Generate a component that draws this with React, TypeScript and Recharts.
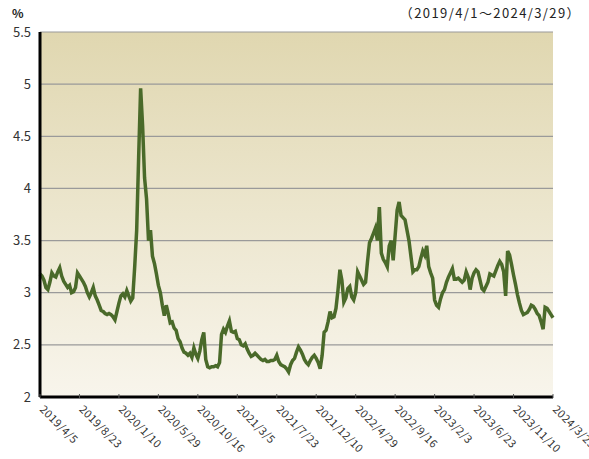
import { CartesianGrid, Line, LineChart, XAxis, YAxis } from 'recharts'

// weekly yield (%), 2019/4/5 .. 2024/3/29
const yields = [
  3.18, 3.16, 3.12, 3.05, 3.03, 3.1, 3.19, 3.16, 3.15, 3.2,
  3.24, 3.16, 3.11, 3.08, 3.05, 3.07, 3.0, 3.01, 3.05, 3.19,
  3.16, 3.13, 3.1, 3.06, 3.0, 2.96, 3.0, 3.05, 2.97, 2.93,
  2.88, 2.83, 2.82, 2.8, 2.79, 2.8, 2.79, 2.77, 2.74, 2.82,
  2.9, 2.97, 2.99, 2.96, 3.02, 2.97, 2.92, 2.95, 3.25, 3.6,
  4.3, 4.96, 4.6, 4.1, 3.9, 3.5, 3.6, 3.35, 3.28, 3.18,
  3.07, 3.0, 2.88, 2.78, 2.88, 2.8, 2.71, 2.72, 2.66, 2.64,
  2.56, 2.53, 2.47, 2.43, 2.42, 2.4, 2.42, 2.38, 2.47, 2.41,
  2.37, 2.44, 2.55, 2.62, 2.36, 2.29, 2.28, 2.29, 2.29, 2.3,
  2.29, 2.33, 2.6, 2.65, 2.62, 2.68, 2.73, 2.63, 2.62, 2.63,
  2.56, 2.55, 2.5, 2.49, 2.51, 2.46, 2.42, 2.39, 2.4, 2.42,
  2.4, 2.38, 2.36, 2.35, 2.36, 2.34, 2.34, 2.35, 2.35, 2.36,
  2.4, 2.34, 2.31, 2.3, 2.29, 2.27, 2.24, 2.31, 2.35, 2.37,
  2.43, 2.48, 2.45, 2.41, 2.36, 2.33, 2.31, 2.35, 2.38, 2.4,
  2.37, 2.33, 2.27, 2.4, 2.62, 2.64, 2.72, 2.82, 2.76, 2.77,
  2.85, 3.02, 3.22, 3.12, 2.91, 2.95, 3.04, 3.06, 2.96, 2.93,
  3.0, 3.2, 3.16, 3.12, 3.08, 3.1, 3.3, 3.48, 3.52, 3.57,
  3.62, 3.5, 3.82, 3.38, 3.32, 3.29, 3.25, 3.45, 3.5, 3.31,
  3.55, 3.79, 3.87, 3.74, 3.72, 3.7, 3.6, 3.5, 3.35, 3.2,
  3.22, 3.22, 3.25, 3.33, 3.4, 3.36, 3.45, 3.25, 3.19, 3.14,
  2.93, 2.88, 2.86, 2.94, 3.0, 3.03, 3.1, 3.15, 3.19, 3.23,
  3.13, 3.13, 3.14, 3.12, 3.1, 3.12, 3.2, 3.15, 3.03, 3.14,
  3.19, 3.22, 3.2, 3.12, 3.04, 3.02, 3.06, 3.1, 3.18, 3.17,
  3.16, 3.21, 3.26, 3.3, 3.27, 3.2, 2.97, 3.4, 3.36, 3.27,
  3.17, 3.08, 2.98, 2.9, 2.83, 2.79, 2.8, 2.81, 2.84, 2.88,
  2.87, 2.84, 2.8, 2.78, 2.72, 2.65, 2.86, 2.85, 2.82, 2.79, 2.76,
]

const tickWeeks = [0, 20, 40, 60, 80, 100, 120, 140, 160, 180, 200, 220, 240, 260]
const tickDates = [
  '2019/4/5', '2019/8/23', '2020/1/10', '2020/5/29', '2020/10/16',
  '2021/3/5', '2021/7/23', '2021/12/10', '2022/4/29', '2022/9/16',
  '2023/2/3', '2023/6/23', '2023/11/10', '2024/3/29',
]
const yTicks = [2, 2.5, 3, 3.5, 4, 4.5, 5, 5.5]

const data = yields.map((value, week) => ({ week, value }))

const font = '"Noto Sans CJK JP", "Noto Sans", sans-serif'

function DateTick({ x, y, payload }: any) {
  const label = tickDates[tickWeeks.indexOf(payload.value)]
  const tx = x - 1
  const ty = y + 11
  return (
    <g>
      <line x1={x} y1={y - 1} x2={x} y2={y - 5} stroke='#555' />
      <text
        x={tx}
        y={ty}
        transform={`rotate(45 ${tx} ${ty})`}
        fontSize={11}
        letterSpacing={0.4}
        fill='#333'
        fontFamily={font}
      >
        {label}
      </text>
    </g>
  )
}

export default function App() {
  return (
    <div style={{ position: 'absolute', left: 0, top: 0, width: 589, height: 459, background: '#fff' }}>
      <div style={{ position: 'absolute', left: 12, top: 4, fontSize: 12, fontWeight: 'bold', fontFamily: font, color: '#222' }}>%</div>
      <div style={{ position: 'absolute', right: 8, top: 3, fontSize: 13, letterSpacing: 1.4, fontFamily: font, color: '#222' }}>
        （2019/4/1～2024/3/29）
      </div>
      <LineChart
        width={589}
        height={459}
        data={data}
        margin={{ top: 32, right: 36, bottom: 0, left: 0 }}
      >
        <defs>
          <linearGradient id='bg' x1='0' y1='0' x2='0' y2='1'>
            <stop offset='0%' stopColor='#e0d7b0' />
            <stop offset='100%' stopColor='#f8f5ec' />
          </linearGradient>
        </defs>
        <CartesianGrid
          vertical={false}
          fill='url(#bg)'
          fillOpacity={1}
          stroke='#9a9a9a'
          strokeWidth={1.2}
        />
        <XAxis
          dataKey='week'
          type='number'
          domain={[0, 260]}
          ticks={tickWeeks}
          interval={0}
          height={62}
          tickSize={0}
          tick={<DateTick />}
          axisLine={{ stroke: '#000', strokeWidth: 3 }}
        />
        <XAxis
          xAxisId='top'
          orientation='top'
          type='number'
          domain={[0, 260]}
          height={0}
          tick={false}
          tickLine={false}
          axisLine={{ stroke: '#000', strokeWidth: 3 }}
        />
        <YAxis
          type='number'
          domain={[2, 5.5]}
          ticks={yTicks}
          interval={0}
          width={40}
          tickSize={0}
          tickMargin={9}
          tick={{ fontSize: 13, fill: '#333', fontFamily: font }}
          axisLine={{ stroke: '#000', strokeWidth: 3 }}
        />
        <YAxis
          yAxisId='right'
          orientation='right'
          type='number'
          domain={[2, 5.5]}
          width={0}
          tick={false}
          tickLine={false}
          axisLine={{ stroke: '#000', strokeWidth: 3 }}
        />
        <Line
          type='linear'
          dataKey='value'
          stroke='#4a6a2a'
          strokeWidth={3.5}
          dot={false}
          isAnimationActive={false}
        />
      </LineChart>
    </div>
  )
}
